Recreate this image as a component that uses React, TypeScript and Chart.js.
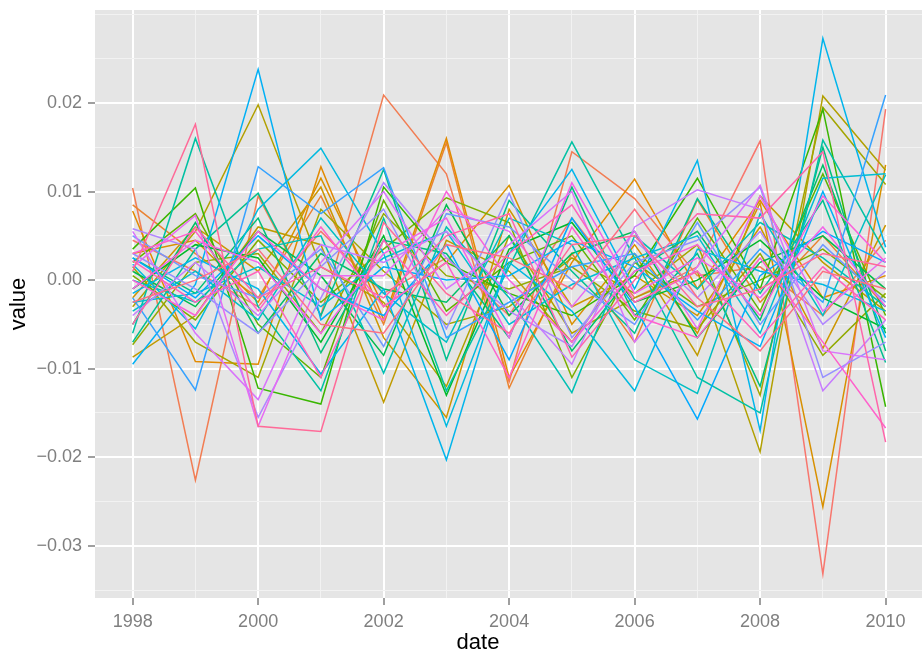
import React, { useEffect, useRef } from "react";
import { Chart, registerables } from "chart.js";

Chart.register(...registerables);

// ---------- data ----------
const YEARS = [1998, 1999, 2000, 2001, 2002, 2003, 2004, 2005, 2006, 2007, 2008, 2009, 2010];
const X_GRID = [1998, 1999, 2000, 2001, 2002, 2003, 2004, 2005, 2006, 2007, 2008, 2009, 2010];
const X_BREAKS = [1998, 2000, 2002, 2004, 2006, 2008, 2010];
const Y_GRID = [-0.035, -0.03, -0.025, -0.02, -0.015, -0.01, -0.005, 0, 0.005, 0.01, 0.015, 0.02, 0.025, 0.03];
const Y_BREAKS = [-0.03, -0.02, -0.01, 0, 0.01, 0.02];

const S00 = [0.0045, 0.001, -0.003, 0.0055, -0.0015, 0.0025, -0.004, 0.007, -0.002, 0.0015, 0.0157, -0.0332, 0.0193];
const S01 = [0.0104, -0.0226, 0.0095, -0.004, 0.0209, 0.012, -0.0115, 0.0145, 0.0092, 0.0005, 0.0015, -0.004, 0.0045];
const S02 = [0.0085, 0.003, -0.002, 0.0095, -0.005, 0.0155, -0.0122, 0.003, -0.007, 0.0091, -0.0025, 0.005, -0.003];
const S03 = [0.0078, -0.0092, -0.0095, 0.0128, -0.0045, 0.016, -0.011, 0.002, 0.0114, -0.001, 0.009, -0.002, 0.0005];
const S04 = [0.003, 0.0045, -0.0025, 0.0115, -0.003, 0.002, 0.0107, -0.005, 0.004, -0.006, 0.0087, -0.0256, 0.013];
const S05 = [-0.002, 0.006, 0.001, 0.0105, -0.0065, -0.0155, 0.008, -0.003, 0.0005, -0.004, 0.006, -0.0077, 0.0062];
const S06 = [-0.0087, -0.004, 0.006, 0.004, -0.0138, 0.0045, 0.001, -0.007, 0.003, -0.0085, 0.0095, 0.002, -0.0035];
const S07 = [-0.003, 0.0055, 0.0198, 0.0015, -0.0025, -0.012, 0.005, -0.006, -0.002, 0.001, -0.0194, 0.0208, 0.0124];
const S08 = [0.0015, -0.007, -0.011, 0.008, 0.001, -0.005, -0.003, 0.0025, -0.0015, 0.004, -0.013, 0.0195, 0.0108];
const S09 = [-0.0073, 0.002, 0.003, -0.006, 0.0075, 0.0005, -0.001, 0.0015, -0.0035, -0.0055, 0.003, -0.0085, -0.0015];
const S10 = [0.0005, -0.0045, 0.0045, -0.0025, 0.0035, 0.0093, 0.0065, -0.011, 0.002, -0.003, 0.0, 0.0035, -0.002];
const S11 = [0.002, 0.0075, -0.005, -0.011, 0.009, -0.0035, 0.002, 0.005, -0.0045, 0.007, -0.0035, 0.012, -0.004];
const S12 = [0.0035, 0.0104, -0.0122, -0.014, 0.0105, 0.002, -0.0015, -0.004, 0.0005, 0.0115, -0.001, 0.0193, -0.0143];
const S13 = [-0.001, 0.004, 0.0025, -0.007, 0.005, -0.013, 0.0035, 0.0065, -0.0025, 0.0, 0.0045, -0.002, -0.0055];
const S14 = [0.001, -0.003, 0.0055, 0.0005, -0.0085, 0.0085, -0.004, 0.003, 0.0055, -0.0065, 0.002, 0.005, -0.001];
const S15 = [-0.005, 0.0065, -0.006, 0.003, -0.001, -0.0025, 0.005, -0.008, 0.001, 0.0055, -0.0045, 0.013, -0.006];
const S16 = [0.0025, -0.0015, 0.007, -0.0082, 0.0045, 0.003, -0.0065, 0.0105, -0.004, 0.003, -0.012, 0.015, -0.008];
const S17 = [-0.007, 0.0035, 0.0098, -0.004, 0.0125, -0.009, 0.009, 0.001, -0.006, 0.0092, -0.0015, 0.009, -0.0093];
const S18 = [-0.006, 0.016, -0.003, -0.0125, 0.007, -0.0125, 0.0015, 0.0156, 0.0025, -0.011, -0.015, 0.0158, 0.003];
const S19 = [0.0, -0.0025, 0.0035, 0.005, -0.0105, 0.006, -0.002, -0.0127, 0.005, -0.001, 0.0065, 0.0025, -0.003];
const S20 = [-0.0035, 0.001, -0.0045, 0.007, -0.0015, -0.007, 0.007, 0.004, -0.009, -0.0128, 0.0075, -0.004, 0.0119];
const S21 = [-0.0025, -0.0015, 0.0015, -0.003, 0.0025, 0.0055, -0.005, -0.0005, 0.0025, 0.005, -0.006, 0.0115, 0.012];
const S22 = [0.0018, -0.0055, 0.008, 0.0149, 0.003, -0.0165, 0.002, -0.0035, -0.0125, 0.0035, 0.001, -0.0005, -0.0035];
const S23 = [-0.0015, 0.0025, -0.001, -0.0106, -0.001, -0.0203, 0.003, 0.0125, -0.001, 0.0135, -0.017, 0.0273, 0.0037];
const S24 = [-0.0095, -0.0005, 0.0238, -0.0045, 0.0015, 0.0, 0.0005, 0.0045, 0.0015, -0.0035, -0.0075, 0.01, -0.0065];
const S25 = [0.0025, -0.002, 0.005, -0.001, -0.004, 0.004, -0.009, 0.007, -0.003, -0.0157, 0.0005, 0.0055, 0.002];
const S26 = [-0.002, -0.0124, 0.0128, 0.0075, 0.0127, -0.0065, -0.0025, 0.0015, 0.003, -0.0045, 0.0035, -0.0025, 0.0209];
const S27 = [0.005, 0.0005, -0.002, 0.0035, -0.0075, 0.0075, 0.006, 0.0, -0.005, 0.0065, -0.005, 0.004, -0.0025];
const S28 = [0.003, -0.001, -0.006, 0.0015, 0.008, -0.0055, 0.0098, -0.0065, 0.002, 0.0045, 0.0105, -0.011, -0.007];
const S29 = [0.0058, 0.0035, -0.0155, -0.002, 0.011, 0.0025, -0.0035, -0.0075, 0.0045, -0.002, 0.0055, -0.005, 0.001];
const S30 = [-0.004, 0.002, -0.004, 0.004, 0.002, 0.0055, -0.0015, -0.0095, 0.006, 0.0102, 0.008, -0.0125, -0.0045];
const S31 = [0.0055, -0.006, -0.0135, 0.002, 0.01, -0.001, 0.004, 0.01, -0.007, 0.0015, 0.0107, -0.008, -0.009];
const S32 = [0.0015, 0.0073, -0.0165, 0.0005, 0.0005, 0.008, 0.0055, -0.003, 0.0055, -0.0055, 0.0095, -0.0035, 0.0025];
const S33 = [-0.001, 0.0045, 0.002, -0.006, 0.003, 0.007, -0.0065, 0.011, -0.0015, 0.0025, -0.002, 0.006, -0.003];
const S34 = [0.0, -0.004, 0.0055, -0.001, -0.0045, 0.01, 0.0, -0.007, 0.001, 0.004, -0.004, 0.0095, 0.002];
const S35 = [0.003, 0.0055, -0.0035, 0.006, -0.003, 0.002, -0.011, 0.006, -0.004, -0.0065, 0.0025, -0.007, -0.0167];
const S36 = [0.0022, -0.0025, 0.001, -0.011, 0.0045, -0.004, 0.003, 0.0085, -0.0025, 0.001, -0.0065, 0.0015, -0.0045];
const S37 = [-0.005, 0.006, -0.002, 0.0015, -0.002, 0.005, 0.0075, -0.0087, 0.0, 0.0075, 0.007, 0.0145, -0.0183];
const S38 = [0.001, 0.0176, -0.0165, -0.0171, 0.0065, -0.0015, -0.006, 0.004, 0.005, -0.003, -0.001, 0.003, 0.0015];
const S39 = [-0.0025, 0.0, 0.0035, -0.005, -0.006, 0.004, 0.0025, -0.001, 0.008, -0.002, -0.008, 0.001, -0.001];

const SERIES = [
  S00, S01, S02, S03, S04, S05, S06, S07, S08, S09,
  S10, S11, S12, S13, S14, S15, S16, S17, S18, S19,
  S20, S21, S22, S23, S24, S25, S26, S27, S28, S29,
  S30, S31, S32, S33, S34, S35, S36, S37, S38, S39,
];

// ---------- styling helpers ----------
const FONT = '"Liberation Sans", Arial, Helvetica, sans-serif';

// ggplot2-style hue palette (HCL, c=100, l=65)
function hcl(h: number, c = 100, l = 65): string {
  const hr = (h * Math.PI) / 180;
  const U = c * Math.cos(hr);
  const V = c * Math.sin(hr);
  const Xn = 95.047, Yn = 100, Zn = 108.883;
  const den = Xn + 15 * Yn + 3 * Zn;
  const un = (4 * Xn) / den, vn = (9 * Yn) / den;
  const Y = Yn * (l > 8 ? Math.pow((l + 16) / 116, 3) : l / 903.3);
  const u = U / (13 * l) + un;
  const v = V / (13 * l) + vn;
  const X = (9 * Y * u) / (4 * v);
  const Z = (Y * (12 - 3 * u - 20 * v)) / (4 * v);
  const x = X / 100, y = Y / 100, z = Z / 100;
  const lin = [
    3.2404542 * x - 1.5371385 * y - 0.4985314 * z,
    -0.969266 * x + 1.8760108 * y + 0.041556 * z,
    0.0556434 * x - 0.2040259 * y + 1.0572252 * z,
  ];
  const hex = lin
    .map((cc) => {
      const g = cc <= 0.0031308 ? 12.92 * cc : 1.055 * Math.pow(cc, 1 / 2.4) - 0.055;
      const n = Math.round(Math.max(0, Math.min(1, g)) * 255);
      return n.toString(16).padStart(2, "0");
    })
    .join("");
  return "#" + hex;
}

const isMajorX = (v: number) => X_BREAKS.some((b) => Math.abs(b - v) < 1e-6);
const isMajorY = (v: number) => Y_BREAKS.some((b) => Math.abs(b - v) < 1e-9);

const fmtY = (v: number) => {
  const k = Math.round(v * 100);
  const s = (Math.abs(k) / 100).toFixed(2);
  return k < 0 ? "\u2212" + s : s;
};

const panelBg = {
  id: "panelBg",
  beforeDraw(chart: any) {
    const { ctx, chartArea } = chart;
    ctx.save();
    ctx.fillStyle = "#E5E5E5";
    ctx.fillRect(chartArea.left, chartArea.top, chartArea.right - chartArea.left, chartArea.bottom - chartArea.top);
    ctx.restore();
  },
};

const axisTitles = {
  id: "axisTitles",
  afterDraw(chart: any) {
    const { ctx } = chart;
    ctx.save();
    ctx.fillStyle = "#000000";
    ctx.font = `22px ${FONT}`;
    ctx.textAlign = "center";
    ctx.textBaseline = "middle";
    ctx.fillText("date", 478, 643);
    ctx.translate(19, 304);
    ctx.rotate(-Math.PI / 2);
    ctx.fillText("value", 0, 0);
    ctx.restore();
  },
};

export default function App() {
  const ref = useRef<HTMLCanvasElement | null>(null);

  useEffect(() => {
    if (!ref.current) return;
    const n = SERIES.length;
    const datasets = SERIES.map((vals, i) => ({
      label: "s" + (i + 1),
      data: vals.map((v, j) => ({ x: YEARS[j], y: v })),
      borderColor: hcl(15 + (360 / n) * i),
      borderWidth: 1.5,
      pointRadius: 0,
      pointHoverRadius: 0,
      fill: false,
      tension: 0,
      order: n - i,
    }));

    const chart = new Chart(ref.current, {
      type: "line",
      data: { datasets },
      plugins: [panelBg, axisTitles],
      options: {
        animation: false,
        responsive: false,
        events: [],
        layout: { padding: { top: 10, right: 1, left: 0, bottom: 0 } },
        plugins: { legend: { display: false }, tooltip: { enabled: false }, title: { display: false } },
        scales: {
          x: {
            type: "linear",
            min: 1997.4,
            max: 2010.58,
            afterBuildTicks: (s: any) => {
              s.ticks = X_GRID.map((v) => ({ value: v }));
            },
            afterFit: (s: any) => {
              s.height = 59;
              s.paddingLeft = 0;
              s.paddingRight = 0;
            },
            border: { display: false },
            grid: {
              color: (c: any) => (c.tick && isMajorX(c.tick.value) ? "#FFFFFF" : "#F2F2F2"),
              lineWidth: (c: any) => (c.tick && isMajorX(c.tick.value) ? 2 : 1),
              drawTicks: true,
              tickLength: 7,
              tickWidth: 1.5,
              tickColor: (c: any) => (c.tick && isMajorX(c.tick.value) ? "#7F7F7F" : "rgba(0,0,0,0)"),
            },
            ticks: {
              autoSkip: false,
              maxRotation: 0,
              minRotation: 0,
              padding: 6,
              color: "#7F7F7F",
              font: { family: FONT, size: 18 },
              callback: (v: any) => (isMajorX(Number(v)) ? String(Math.round(Number(v))) : ""),
            },
          },
          y: {
            type: "linear",
            min: -0.0359,
            max: 0.0305,
            afterBuildTicks: (s: any) => {
              s.ticks = Y_GRID.map((v) => ({ value: v }));
            },
            afterFit: (s: any) => {
              s.width = 95;
              s.paddingTop = 0;
              s.paddingBottom = 0;
            },
            border: { display: false },
            grid: {
              color: (c: any) => (c.tick && isMajorY(c.tick.value) ? "#FFFFFF" : "#F2F2F2"),
              lineWidth: (c: any) => (c.tick && isMajorY(c.tick.value) ? 2 : 1),
              drawTicks: true,
              tickLength: 7,
              tickWidth: 1.5,
              tickColor: (c: any) => (c.tick && isMajorY(c.tick.value) ? "#7F7F7F" : "rgba(0,0,0,0)"),
            },
            ticks: {
              autoSkip: false,
              padding: 6,
              color: "#7F7F7F",
              font: { family: FONT, size: 18 },
              callback: (v: any) => (isMajorY(Number(v)) ? fmtY(Number(v)) : ""),
            },
          },
        },
      },
    } as any);

    return () => chart.destroy();
  }, []);

  return (
    <div style={{ position: "fixed", left: 0, top: 0, width: 923, height: 657, background: "#FFFFFF" }}>
      <canvas ref={ref} width={923} height={657} style={{ display: "block", width: 923, height: 657 }} />
    </div>
  );
}
